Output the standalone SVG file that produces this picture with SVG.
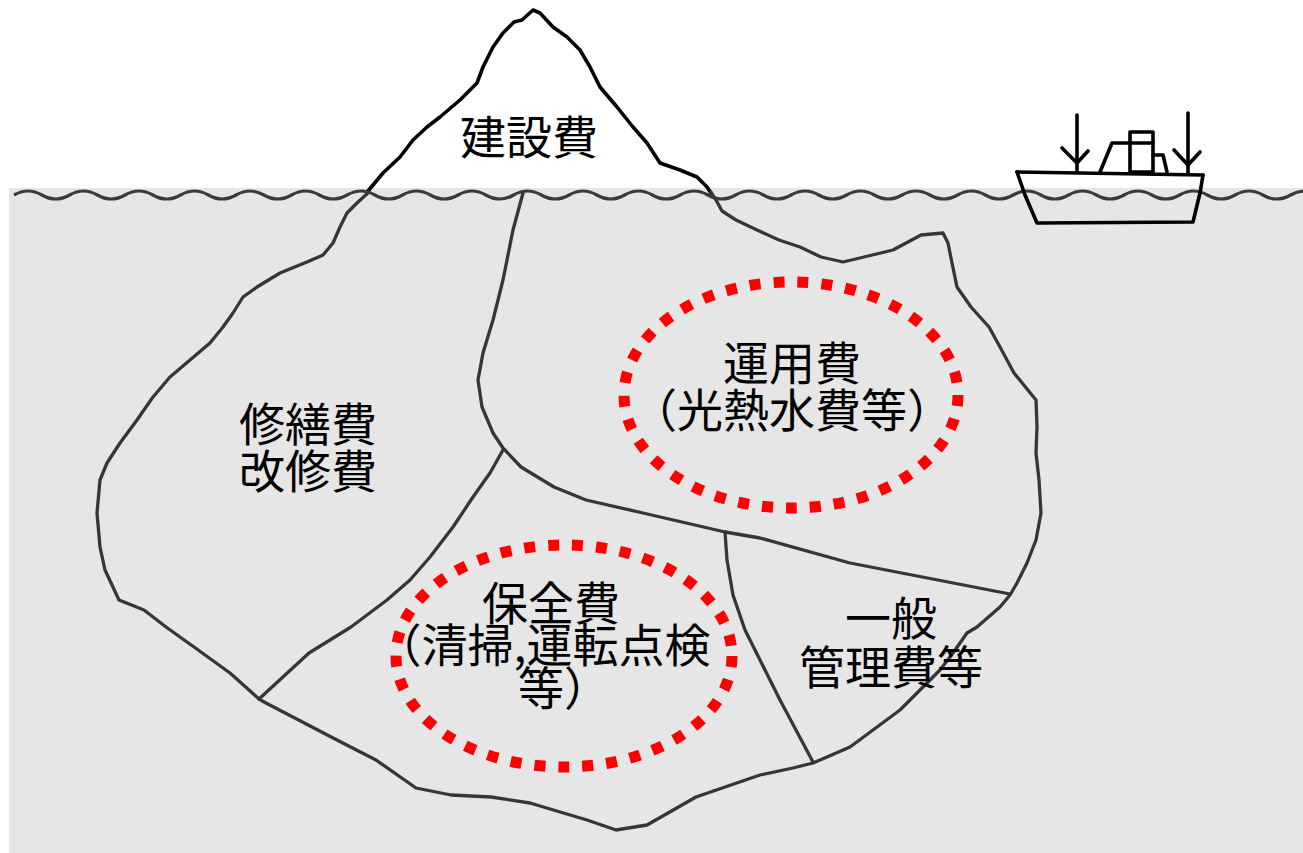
<svg xmlns="http://www.w3.org/2000/svg" width="1303" height="853" viewBox="0 0 1303 853">
  <defs>
    <style>
      .sea { fill: #e6e6e6; }
      .ink { fill: none; stroke: #000; stroke-width: 3.6; stroke-linejoin: round; stroke-linecap: round; }
      .under { fill: none; stroke: #363636; stroke-width: 3.3; stroke-linejoin: round; stroke-linecap: round; }
      .wave { fill: none; stroke: #3a3a3a; stroke-width: 3.2; }
      .mark { fill: none; stroke: #ff0000; stroke-width: 11; stroke-dasharray: 11 13; }
      .lbl { font-family: "Noto Sans CJK JP", "Noto Sans CJK SC", sans-serif; font-size: 46px; fill: #000; text-anchor: middle; }
    </style>
  </defs>

  <rect width="1303" height="853" fill="#fff"/>
  <!-- sea below the waterline -->
  <rect class="sea" x="9" y="188" width="1294" height="665"/>

  <!-- iceberg tip above water -->
  <g id="tip">
    <polyline class="ink" points="368,191 383,173 400,157 413,140 427,127 440,117 460,100 477,83 483,67 493,47 503,33 514,22 522,20 533,10 540,13 553,27 567,37 580,50 590,67 600,87 617,107 633,127 647,143 660,163 680,170 697,177 707,187 711,193"/>
  </g>

  <!-- iceberg outline under water -->
  <g id="iceberg">
    <polyline class="under" points="369,192 357,203 347,213 340,227 333,243 323,255 307,262 280,273 257,287 243,297 233,313 223,327 210,343 190,360 170,377 153,397 137,420 120,443 107,463 100,480 97,513 100,547 105,570 119,600 144,610 166,627 194,647 230,673 259,699 266,703 312,727 337,740 376,760 416,788 451,795 491,797 530,803 587,820 616,830 647,825 696,797 760,775 793,768 813,763 827,757 850,747 873,730 900,710 923,687 940,670 953,653 967,633 977,627 1000,607 1010,595 1017,583 1027,563 1036,540 1041,513 1039,480 1036,453 1037,427 1036,400 1014,373 1000,347 989,327 971,307 957,287 952,263 948,243 943,233 921,235 893,250 864,257 843,262 821,257 800,247 779,240 757,230 736,220 722,211 716,200 711,192"/>
  </g>

  <!-- dividing lines between cost areas -->
  <g id="connectors">
    <polyline class="under" points="523,193 513,230 503,280 493,320 483,353 478,380 482,407 493,433 503,448 521,467 554,487 586,500 643,513 725,532 760,538 850,563 1010,594"/>
    <polyline class="under" points="725,532 727,560 733,595 745,630 760,660 780,700 813,762"/>
    <polyline class="under" points="503,450 490,473 473,497 453,527 430,557 410,580 387,600 351,627 309,653 259,699"/>
  </g>

  <!-- waterline -->
  <path class="wave" d="M14.1 195 Q28 187 41.85 195 T69.6 195 T97.35 195 T125.1 195 T152.85 195 T180.6 195 T208.35 195 T236.1 195 T263.85 195 T291.6 195 T319.35 195 T347.1 195 T374.85 195 T402.6 195 T430.35 195 T458.1 195 T485.85 195 T513.6 195 T541.35 195 T569.1 195 T596.85 195 T624.6 195 T652.35 195 T680.1 195 T707.85 195 T735.6 195 T763.35 195 T791.1 195 T818.85 195 T846.6 195 T874.35 195 T902.1 195 T929.85 195 T957.6 195 T985.35 195 T1013.1 195 T1040.85 195 T1068.6 195 T1096.35 195 T1124.1 195 T1151.85 195 T1179.6 195 T1207.35 195 T1235.1 195 T1262.85 195 T1290.6 195 T1318.35 195"/>

  <!-- ship -->
  <g id="ship">
    <polyline class="ink" points="1017,172 1203,175"/>
    <polyline class="ink" points="1017,172 1025,195 1037,223 1193,222 1200,193 1203,175"/>
    <line class="ink" x1="1077" y1="115" x2="1077" y2="172"/>
    <polyline class="ink" points="1062,148 1077,163 1088,151"/>
    <line class="ink" x1="1188" y1="113" x2="1188" y2="173"/>
    <polyline class="ink" points="1174,150 1188,165 1200,152"/>
    <polyline class="ink" points="1100,172 1112,143 1130,143"/>
    <rect class="ink" x="1130" y="132" width="23" height="40"/>
    <line class="ink" x1="1130" y1="143" x2="1153" y2="143"/>
    <polyline class="ink" points="1153,155 1163,155 1167,172"/>
  </g>

  <!-- highlighted areas -->
  <g id="mark-operation">
    <ellipse class="mark" cx="791" cy="395" rx="167" ry="113"/>
  </g>
  <g id="mark-maintenance">
    <ellipse class="mark" cx="564" cy="656" rx="168" ry="111"/>
  </g>

  <!-- labels -->
  <g id="label-construction">
    <text class="lbl" x="529" y="154">建設費</text>
  </g>
  <g id="label-repair">
    <text class="lbl" x="308" y="441">修繕費</text>
    <text class="lbl" x="308" y="488">改修費</text>
  </g>
  <g id="label-operation">
    <text class="lbl" x="792" y="380">運用費</text>
    <text class="lbl" x="792" y="427">（光熱水費等）</text>
  </g>
  <g id="label-maintenance">
    <text class="lbl" x="551" y="620">保全費</text>
    <text class="lbl" x="543" y="662">（清掃,運転点検</text>
    <text class="lbl" x="564" y="705">等）</text>
  </g>
  <g id="label-general">
    <text class="lbl" x="891" y="635">一般</text>
    <text class="lbl" x="891" y="684">管理費等</text>
  </g>
</svg>
